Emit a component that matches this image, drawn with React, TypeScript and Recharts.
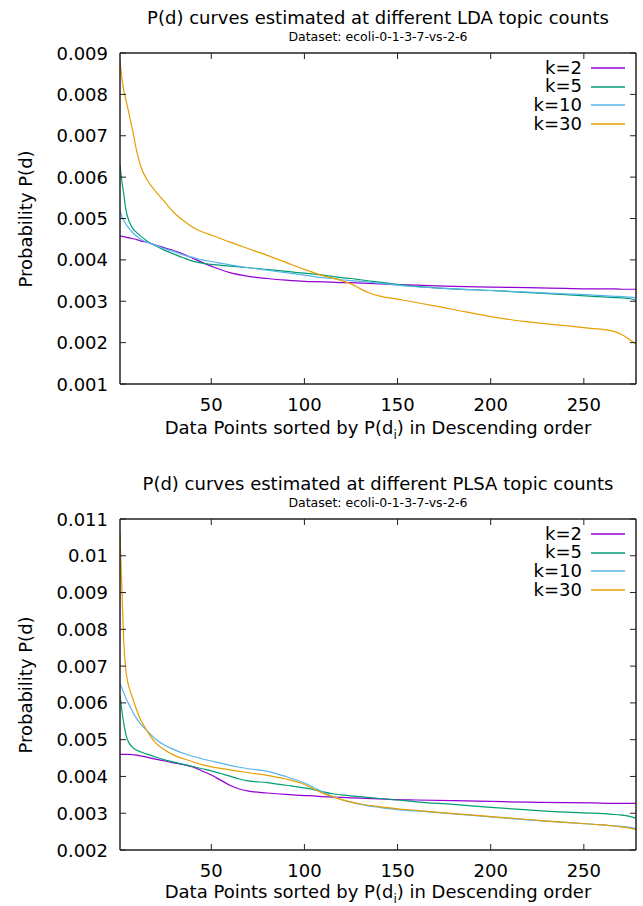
import React from "react";
import { LineChart, Line, XAxis, YAxis, Legend } from "recharts";

// ---- LDA chart (top) ----
const ldaX = [1, 2, 3, 4, 6, 8, 10, 12, 16, 20, 25, 30, 35, 40, 45, 50, 60, 70, 80, 90, 100, 110, 115, 120, 125, 130, 135, 140, 150, 160, 180, 200, 220, 240, 255, 262, 267, 271, 275, 278];
const ldaK2 = [0.00458, 0.00457, 0.00456, 0.00455, 0.00453, 0.00451, 0.00449, 0.00446, 0.00442, 0.00436, 0.00429, 0.00422, 0.00414, 0.00404, 0.00394, 0.00385, 0.00369, 0.0036, 0.00355, 0.00351, 0.00348, 0.00347, 0.00346, 0.00345, 0.00345, 0.00344, 0.00343, 0.00342, 0.0034, 0.00339, 0.00336, 0.00334, 0.00333, 0.00331, 0.0033, 0.0033, 0.0033, 0.00329, 0.00329, 0.00329];
const ldaK5 = [0.00629, 0.0059, 0.0056, 0.00525, 0.00492, 0.00475, 0.00466, 0.00458, 0.00444, 0.00434, 0.00423, 0.00414, 0.00405, 0.00397, 0.00392, 0.00389, 0.00385, 0.00381, 0.00377, 0.00372, 0.00368, 0.00363, 0.0036, 0.00357, 0.00355, 0.00352, 0.00349, 0.00346, 0.00341, 0.00336, 0.0033, 0.00326, 0.00321, 0.00316, 0.00312, 0.0031, 0.00309, 0.00308, 0.00306, 0.00302];
const ldaK10 = [0.0052, 0.00505, 0.00495, 0.00488, 0.00475, 0.00465, 0.00457, 0.0045, 0.00442, 0.00435, 0.00427, 0.0042, 0.00412, 0.00406, 0.004, 0.00396, 0.00388, 0.00381, 0.00375, 0.00369, 0.00363, 0.00357, 0.00355, 0.00352, 0.0035, 0.00348, 0.00346, 0.00344, 0.00339, 0.00335, 0.0033, 0.00326, 0.00322, 0.00318, 0.00315, 0.00313, 0.00312, 0.00311, 0.0031, 0.00308];
const ldaK30 = [0.00882, 0.0084, 0.0081, 0.0079, 0.0075, 0.00708, 0.00662, 0.00628, 0.0059, 0.00566, 0.0054, 0.00514, 0.00495, 0.00479, 0.00468, 0.0046, 0.00443, 0.00427, 0.00411, 0.00394, 0.00377, 0.00362, 0.00356, 0.0035, 0.00342, 0.0033, 0.0032, 0.00313, 0.00305, 0.00297, 0.0028, 0.00263, 0.0025, 0.00241, 0.00234, 0.00231, 0.00226, 0.00218, 0.00206, 0.00197];
const ldaYTicks = [0.001, 0.002, 0.003, 0.004, 0.005, 0.006, 0.007, 0.008, 0.009];

// ---- PLSA chart (bottom) ----
const plsaX = [1, 2, 3, 4, 5, 6, 8, 10, 12, 14, 16, 20, 25, 30, 35, 40, 45, 50, 55, 60, 65, 70, 80, 90, 100, 105, 110, 115, 120, 125, 130, 140, 150, 160, 180, 200, 220, 240, 255, 265, 270, 274, 278];
const plsaK2 = [0.0046, 0.0046, 0.0046, 0.0046, 0.0046, 0.0046, 0.00459, 0.00458, 0.00456, 0.00454, 0.00452, 0.00447, 0.00442, 0.00437, 0.00432, 0.00426, 0.00415, 0.00404, 0.0039, 0.00376, 0.00366, 0.0036, 0.00355, 0.00351, 0.00348, 0.00347, 0.00345, 0.00344, 0.00343, 0.00342, 0.00341, 0.00339, 0.00337, 0.00336, 0.00334, 0.00332, 0.0033, 0.00329, 0.00328, 0.00327, 0.00327, 0.00327, 0.00327];
const plsaK5 = [0.0062, 0.0058, 0.00545, 0.00518, 0.005, 0.0049, 0.00478, 0.00471, 0.00467, 0.00463, 0.0046, 0.00453, 0.00445, 0.00439, 0.00433, 0.00427, 0.00421, 0.00415, 0.00408, 0.00401, 0.00393, 0.00388, 0.00383, 0.00376, 0.00369, 0.00364, 0.00358, 0.00353, 0.0035, 0.00347, 0.00345, 0.0034, 0.00336, 0.00331, 0.00324, 0.00316, 0.00309, 0.00303, 0.003, 0.00297, 0.00295, 0.00292, 0.00286];
const plsaK10 = [0.00652, 0.0064, 0.00628, 0.00615, 0.00604, 0.00594, 0.00574, 0.00557, 0.00543, 0.00532, 0.00522, 0.00502, 0.00485, 0.00473, 0.00463, 0.00455, 0.00448, 0.00442, 0.00436, 0.0043, 0.00425, 0.00421, 0.00414, 0.004, 0.00382, 0.0037, 0.00357, 0.00346, 0.00337, 0.0033, 0.00324, 0.00316, 0.0031, 0.00306, 0.00298, 0.0029, 0.00282, 0.00275, 0.0027, 0.00266, 0.00264, 0.00262, 0.00258];
const plsaK30 = [0.01061, 0.0091, 0.0077, 0.00695, 0.0066, 0.0064, 0.0061, 0.0058, 0.00555, 0.00537, 0.0052, 0.00492, 0.00472, 0.00458, 0.00448, 0.0044, 0.00432, 0.00426, 0.00422, 0.00418, 0.00414, 0.0041, 0.00403, 0.00393, 0.00378, 0.00366, 0.00354, 0.00345, 0.00337, 0.0033, 0.00325, 0.00318, 0.00312, 0.00308, 0.00299, 0.00291, 0.00283, 0.00275, 0.0027, 0.00266, 0.00263, 0.0026, 0.00255];
const plsaYTicks = [0.002, 0.003, 0.004, 0.005, 0.006, 0.007, 0.008, 0.009, 0.01, 0.011];

const xTicks = [50, 100, 150, 200, 250];
const seriesKeys = ["k2", "k5", "k10", "k30"];
const seriesNames = ["k=2", "k=5", "k=10", "k=30"];
const COLORS = ["#9400d3", "#009e73", "#56b4e9", "#e69f00"];

const FONT = "'DejaVu Sans', sans-serif";
const AXIS = "#222";
const TICK = 6;
const W = 643;
const H = 453;

const buildRows = (xs: number[], cols: number[][]) =>
  xs.map((x, i) => ({ x, k2: cols[0][i], k5: cols[1][i], k10: cols[2][i], k30: cols[3][i] }));

const bottomTick = (p: any) => (
  <g>
    <line x1={p.x} y1={p.y} x2={p.x} y2={p.y - TICK} stroke={AXIS} strokeWidth={1} />
    <text x={p.x} y={p.y + 27} textAnchor="middle" fontSize={18} fontFamily={FONT} fill="#000">
      {p.payload.value}
    </text>
  </g>
);
const topTick = (p: any) => (
  <line x1={p.x} y1={p.y} x2={p.x} y2={p.y + TICK} stroke={AXIS} strokeWidth={1} />
);
const leftTick = (p: any) => (
  <g>
    <line x1={p.x} y1={p.y} x2={p.x + TICK} y2={p.y} stroke={AXIS} strokeWidth={1} />
    <text x={p.x - 12} y={p.y + 6.5} textAnchor="end" fontSize={18} fontFamily={FONT} fill="#000">
      {String(p.payload.value)}
    </text>
  </g>
);
const rightTick = (p: any) => (
  <line x1={p.x} y1={p.y} x2={p.x - TICK} y2={p.y} stroke={AXIS} strokeWidth={1} />
);

// keep legend rows in plotting order
const renderLegend = (props: any) => {
  const items = [...(props.payload || [])].sort(
    (a: any, b: any) => seriesNames.indexOf(a.value) - seriesNames.indexOf(b.value)
  );
  return (
    <div style={{ fontFamily: FONT }}>
      {items.map((e: any) => (
        <div key={e.value} style={{ display: "flex", alignItems: "center", height: 18.7 }}>
          <span style={{ width: 92, textAlign: "right", fontSize: 18, lineHeight: "18.7px", color: "#000" }}>
            {e.value}
          </span>
          <svg width={44} height={10}>
            <line x1={9} x2={43} y1={5} y2={5} stroke={e.color} strokeWidth={1.3} />
          </svg>
        </div>
      ))}
    </div>
  );
};

function PdChart(props: {
  title: string;
  rows: any[];
  yDomain: [number, number];
  yTicks: number[];
  top: number;
  topH: number;
  bottomH: number;
  xLabelGap: number;
}) {
  const { title, rows, yDomain, yTicks, top, topH, bottomH, xLabelGap } = props;
  const plotMid = topH + (H - topH - bottomH) / 2;
  return (
    <div style={{ position: "absolute", left: 0, top, width: W, height: H }}>
      <div style={{ position: "absolute", left: 120, width: 516, top: topH - 45.5, textAlign: "center", fontSize: 18, lineHeight: "20px", whiteSpace: "nowrap" }}>
        {title}
      </div>
      <div style={{ position: "absolute", left: 120, width: 516, top: topH - 23.5, textAlign: "center", fontSize: 12.5, lineHeight: "14px", whiteSpace: "nowrap" }}>
        Dataset: ecoli-0-1-3-7-vs-2-6
      </div>
      <div style={{ position: "absolute", left: 25, top: plotMid, transform: "translate(-50%, -50%) rotate(-90deg)", fontSize: 18, whiteSpace: "nowrap" }}>
        Probability P(d)
      </div>
      <div style={{ position: "absolute", left: 120, width: 516, top: H - bottomH + xLabelGap, textAlign: "center", fontSize: 18, lineHeight: "20px", whiteSpace: "nowrap" }}>
        Data Points sorted by P(d<span style={{ fontSize: 12, position: "relative", top: 5 }}>i</span>) in Descending order
      </div>
      <LineChart width={W} height={H} data={rows} margin={{ top: 0, right: 0, bottom: 0, left: 0 }}>
        <XAxis xAxisId="b" dataKey="x" type="number" domain={[1, 278]} ticks={xTicks} orientation="bottom" height={bottomH}
          tick={bottomTick} tickLine={false} tickSize={0} tickMargin={0} axisLine={{ stroke: AXIS, strokeWidth: 1.5 }} allowDataOverflow />
        <XAxis xAxisId="t" dataKey="x" type="number" domain={[1, 278]} ticks={xTicks} orientation="top" height={topH}
          tick={topTick} tickLine={false} tickSize={0} tickMargin={0} axisLine={{ stroke: AXIS, strokeWidth: 1.5 }} allowDataOverflow />
        <YAxis yAxisId="l" type="number" domain={yDomain} ticks={yTicks} width={120}
          tick={leftTick} tickLine={false} tickSize={0} tickMargin={0} axisLine={{ stroke: AXIS, strokeWidth: 1.5 }} allowDataOverflow />
        <YAxis yAxisId="r" orientation="right" type="number" domain={yDomain} ticks={yTicks} width={W - 636}
          tick={rightTick} tickLine={false} tickSize={0} tickMargin={0} axisLine={{ stroke: AXIS, strokeWidth: 1.5 }} allowDataOverflow />
        {seriesKeys.map((k, i) => (
          <Line key={k} xAxisId="b" yAxisId="l" type="monotone" dataKey={k} name={seriesNames[i]} stroke={COLORS[i]}
            strokeWidth={1.2} dot={false} activeDot={false} isAnimationActive={false} />
        ))}
        <Legend layout="vertical" align="center" verticalAlign="middle" content={renderLegend}
          wrapperStyle={{ top: topH + 5.6, left: 490, width: 140 }} />
      </LineChart>
    </div>
  );
}

export default function App() {
  const ldaRows = buildRows(ldaX, [ldaK2, ldaK5, ldaK10, ldaK30]);
  const plsaRows = buildRows(plsaX, [plsaK2, plsaK5, plsaK10, plsaK30]);
  return (
    <div style={{ position: "absolute", left: 0, top: 0, width: W, height: 906, background: "#fff", fontFamily: FONT, color: "#000", overflow: "hidden" }}>
      <PdChart title="P(d) curves estimated at different LDA topic counts" rows={ldaRows}
        yDomain={[0.001, 0.009]} yTicks={ldaYTicks} top={0} topH={53} bottomH={69} xLabelGap={34} />
      <PdChart title="P(d) curves estimated at different PLSA topic counts" rows={plsaRows}
        yDomain={[0.002, 0.011]} yTicks={plsaYTicks} top={453} topH={66} bottomH={56} xLabelGap={32} />
    </div>
  );
}
